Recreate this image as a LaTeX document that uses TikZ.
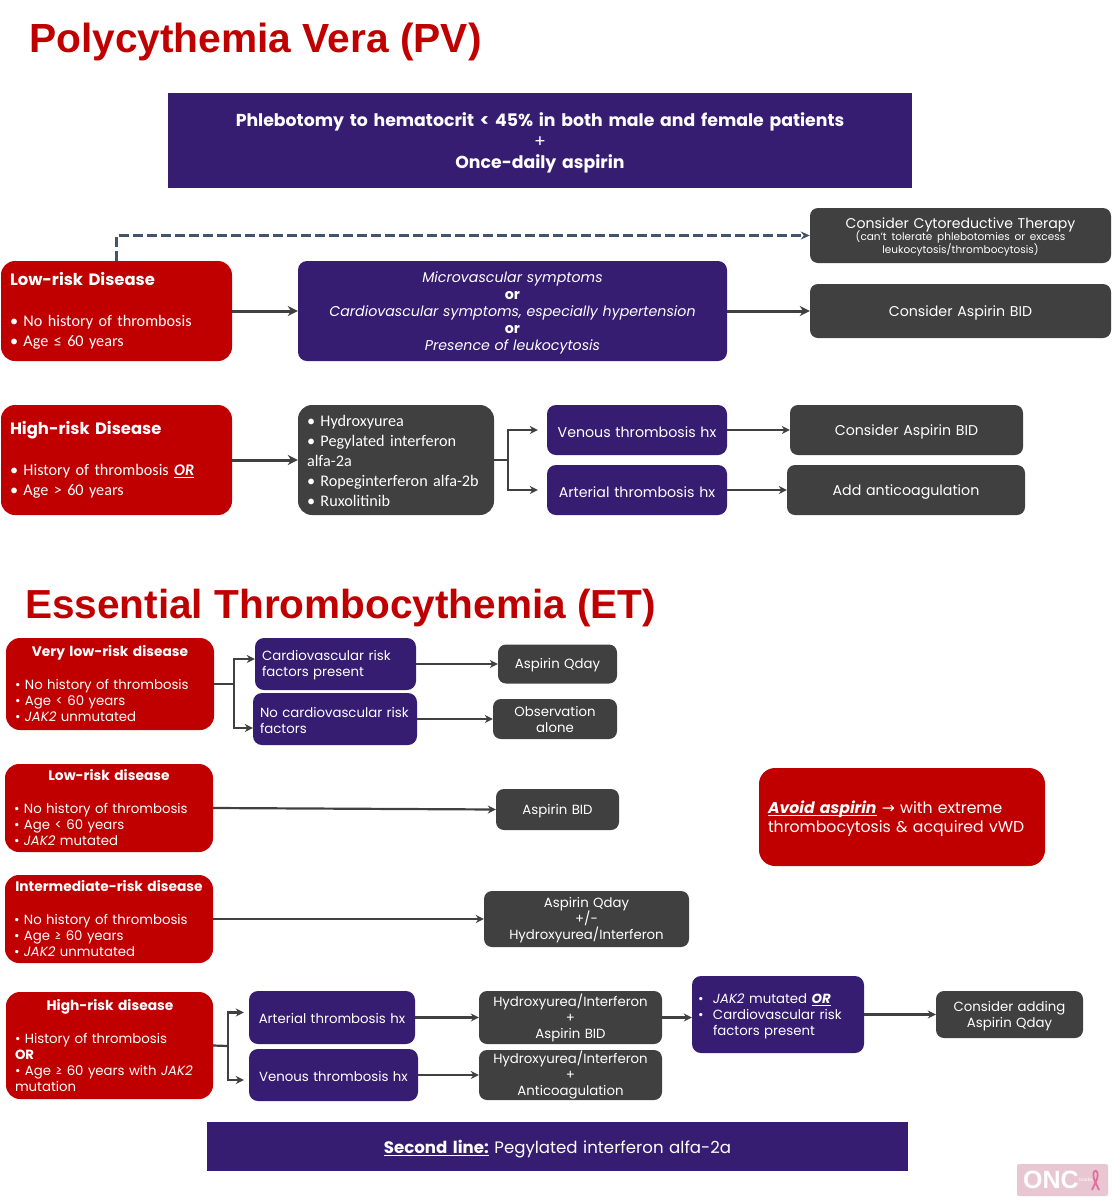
\documentclass[tikz,border=0pt]{standalone}
\usepackage{fontspec}
\usepackage{tikz}
\usepackage{xcolor}
\usetikzlibrary{arrows.meta}
\setmainfont{Poppins}
\newfontfamily\carlitofont{Carlito}
\newfontfamily\arialfont{Liberation Sans}
\newfontfamily\dejavufont{DejaVu Sans}
\definecolor{boxred}{HTML}{C00000}
\definecolor{boxpurple}{HTML}{361D72}
\definecolor{boxdark}{HTML}{404040}
\definecolor{dashblue}{HTML}{44546A}
\definecolor{logopink}{HTML}{E8C6D2}
\definecolor{ribbonpink}{HTML}{E0709A}
\newcommand{\pvhead}[1]{{\fontspec{Poppins}\fontsize{16.4}{20}\selectfont\bfseries #1}}
\newcommand{\ethead}[1]{\makebox[190pt]{\fontsize{13.8}{16}\selectfont\bfseries #1}}
\tikzset{
    flow-box/.style = {rectangle, text=white, inner xsep=9pt, inner ysep=0pt},
    box-size/.style 2 args = {text width=#1pt-18pt, minimum height=#2pt},
    text-drop/.style = {execute at begin node={\rule{0pt}{#1pt}}},
    red-box/.style = {flow-box, fill=boxred, rounded corners=14pt, align=left},
    purple-box/.style = {flow-box, fill=boxpurple, rounded corners=9pt, align=center},
    dark-box/.style = {flow-box, fill=boxdark, rounded corners=8pt, align=center},
    page-title/.style = {text=boxred, anchor=west, inner sep=0pt, font=\arialfont\fontsize{#1}{46}\selectfont\bfseries},
    pv-text/.style = {font=\fontsize{14.2}{17}\selectfont, text-drop=14.5},
    pv-list/.style = {font=\carlitofont\fontsize{16.2}{20}\selectfont, text-drop=13},
    et-text/.style = {font=\fontsize{13.3}{16}\selectfont},
    et-line/.style = {et-text, text-drop=13},
    flow-arrow/.style = {draw=boxdark, line width=3pt, -{Stealth[length=10pt,width=10pt]}},
    thin-arrow/.style = {draw=boxdark, line width=2.2pt, -{Stealth[length=8pt,width=8pt]}},
    flow-line/.style = {draw=boxdark, line width=2.6pt},
    dash-arrow/.style = {draw=dashblue, line width=2.6pt, dash pattern=on 10pt off 4pt, -{Stealth[length=9pt,width=8pt]}},
}

\begin{document}
\begin{tikzpicture}[x=1pt, y=-1pt]
\useasboundingbox (0,0) rectangle (1112,1200);

% polycythemia vera
\node[page-title=40.7] (pv-title) at (29,42) {Polycythemia Vera (PV)};
\node[purple-box, box-size={744}{95}, rounded corners=0pt, font=\fontsize{17.3}{21}\selectfont\bfseries, text-drop=19] (pv-header) at (540,140.5)
    {Phlebotomy to hematocrit < 45\% in both male and female patients\\{\mdseries +}\\Once-daily aspirin};

\node[red-box, box-size={231}{100}, pv-list] (low-pv) at (116.5,311)
    {\pvhead{Low-risk Disease}\\[21pt]• No history of thrombosis\\• Age ≤ 60 years};
\node[purple-box, box-size={429}{100}, pv-text] (symptoms-pv) at (512.5,311)
    {\textit{Microvascular symptoms}\\\textbf{or}\\\textit{Cardiovascular symptoms, especially hypertension}\\\textbf{or}\\\textit{Presence of leukocytosis}};
\node[dark-box, box-size={301}{55}, font=\fontsize{14.1}{15}\selectfont, text-drop=14] (cyto-pv) at (960.5,235.5)
    {Consider Cytoreductive Therapy\\[-2pt]{\fontsize{10.5}{13}\selectfont (can't tolerate phlebotomies or  excess\\[-2pt]leukocytosis/thrombocytosis)}};
\node[dark-box, box-size={301}{54}, pv-text] (aspirin-pv) at (960.5,311) {Consider Aspirin BID};

\node[red-box, box-size={231}{110}, pv-list] (high-pv) at (116.5,460)
    {\pvhead{High-risk Disease}\\[21pt]• History of thrombosis \underline{\textbf{\textit{OR}}}\\• Age > 60 years};
\node[dark-box, box-size={196}{110}, align=left, rounded corners=14pt, pv-list] (drugs-pv) at (396,460)
    {• Hydroxyurea\\• Pegylated interferon\\alfa-2a\\• Ropeginterferon alfa-2b\\• Ruxolitinib};
\node[purple-box, box-size={180}{50}, pv-text, text-drop=10.5] (venous-pv) at (637,430) {Venous thrombosis hx};
\node[purple-box, box-size={180}{50}, pv-text, text-drop=10.5] (arterial-pv) at (637,490) {Arterial thrombosis hx};
\node[dark-box, box-size={233}{50}, pv-text] (consider-pv) at (906.5,430) {Consider Aspirin BID};
\node[dark-box, box-size={238}{50}, pv-text] (anticoag-pv) at (906,490) {Add anticoagulation};
\coordinate (split-pv) at (508,460);

\draw[dash-arrow] (low-pv.north) |- (cyto-pv.west);
\draw[flow-arrow] (low-pv.east) -- (symptoms-pv.west);
\draw[flow-arrow] (symptoms-pv.east) -- (aspirin-pv.west);
\draw[flow-arrow] (high-pv.east) -- (drugs-pv.west);
\draw[flow-line] (drugs-pv.east) -- (split-pv);
\draw[thin-arrow, shorten >=9pt] (split-pv) |- (venous-pv.west);
\draw[thin-arrow, shorten >=9pt] (split-pv) |- (arterial-pv.west);
\draw[thin-arrow] (venous-pv.east) -- (consider-pv.west);
\draw[thin-arrow] (arterial-pv.east) -- (anticoag-pv.west);

% essential thrombocythemia
\node[page-title=40.55] (et-title) at (25,608) {Essential Thrombocythemia (ET)};

\node[red-box, box-size={208}{92}, et-text] (verylow-et) at (110,684)
    {\ethead{Very low-risk disease}\\[17pt]• No history of thrombosis\\• Age < 60 years\\• \textit{JAK2} unmutated};
\node[purple-box, box-size={161}{52}, align=left, et-line, inner xsep=7pt, text width=147pt] (present-et) at (335.5,664) {Cardiovascular risk\\factors present};
\node[purple-box, box-size={164}{52}, align=left, et-line, text-drop=10, inner xsep=7pt, text width=150pt] (absent-et) at (335,719) {No cardiovascular risk\\factors};
\node[dark-box, box-size={119}{39}, et-line] (qday-et) at (557.5,664) {Aspirin Qday};
\node[dark-box, box-size={124}{40}, et-text] (observe-et) at (555,719) {Observation\\alone};
\coordinate (split-verylow) at (234,684);

\node[red-box, box-size={208}{88}, et-text] (low-et) at (109,808)
    {\ethead{Low-risk disease}\\[17pt]• No history of thrombosis\\• Age < 60 years\\• \textit{JAK2} mutated};
\node[dark-box, box-size={123}{41}, et-line] (bid-et) at (557.5,809.5) {Aspirin BID};
\node[red-box, box-size={286}{98}, rounded corners=16pt, font=\fontsize{15.7}{19}\selectfont, text-drop=16] (avoid-et) at (902,817)
    {\underline{\smash{\textbf{\textit{Avoid aspirin}}}} {\dejavufont →} with extreme\\thrombocytosis \& acquired vWD};

\node[red-box, box-size={208}{88}, et-text] (inter-et) at (109,919)
    {\ethead{Intermediate-risk disease}\\[17pt]• No history of thrombosis\\• Age ≥ 60 years\\• \textit{JAK2} unmutated};
\node[dark-box, box-size={205}{56}, et-line] (hydroxy-et) at (586.5,919) {Aspirin Qday\\+/-\\Hydroxyurea/Interferon};

\node[red-box, box-size={207}{107}, et-text] (high-et) at (109.5,1045.5)
    {\ethead{High-risk disease}\\[17pt]• History of thrombosis\\\textbf{OR}\\• Age ≥ 60 years with \textit{JAK2}\\mutation};
\node[purple-box, box-size={166}{53}, et-line, text-drop=11] (arterial-et) at (332,1017.5) {Arterial thrombosis hx};
\node[purple-box, box-size={169}{52}, et-line, text-drop=11] (venous-et) at (333.5,1075) {Venous thrombosis hx};
\node[dark-box, box-size={183}{53}, et-text] (hydasp-et) at (570.5,1017.5) {Hydroxyurea/Interferon\\+\\Aspirin BID};
\node[dark-box, box-size={183}{50}, et-text] (hydanti-et) at (570.5,1075) {Hydroxyurea/Interferon\\+\\Anticoagulation};
\node[purple-box, box-size={172}{77}, align=left, et-line, inner xsep=6pt, text width=160pt] (jak-et) at (778,1014.5)
    {\makebox[15pt][l]{•}\textit{JAK2} mutated \underline{\textbf{\textit{OR}}}\\\makebox[15pt][l]{•}Cardiovascular risk\\\hspace*{15pt}factors present};
\node[dark-box, box-size={147}{47}, et-line] (adding-et) at (1009.5,1014.5) {Consider adding\\Aspirin Qday};
\coordinate (split-high) at (228,1046);

\node[purple-box, box-size={701}{49}, rounded corners=0pt, font=\fontsize{16.6}{20}\selectfont, text-drop=18.5] (second-et) at (557.5,1146.5)
    {\underline{\textbf{Second line:}} Pegylated interferon alfa-2a};

\draw[flow-line] (verylow-et.east) -- (split-verylow);
\draw[thin-arrow] (split-verylow) |- ([yshift=5pt]present-et.west);
\draw[thin-arrow] (split-verylow) |- ([yshift=-9pt]absent-et.west);
\draw[thin-arrow] (present-et.east) -- (qday-et.west);
\draw[thin-arrow] (absent-et.east) -- (observe-et.west);
\draw[thin-arrow] (low-et.east) -- (bid-et.west);
\draw[thin-arrow] (inter-et.east) -- (hydroxy-et.west);
\draw[flow-line, line width=2.2pt] (high-et.east) -- (split-high);
\draw[thin-arrow, shorten >=5pt] (split-high) |- ([yshift=5pt]arterial-et.west);
\draw[thin-arrow, shorten >=5pt] (split-high) |- ([yshift=-5pt]venous-et.west);
\draw[thin-arrow] (arterial-et.east) -- (hydasp-et.west);
\draw[thin-arrow] (venous-et.east) -- (hydanti-et.west);
\draw[thin-arrow] (hydasp-et.east) -- (jak-et.west |- hydasp-et.east);
\draw[thin-arrow] (jak-et.east) -- (adding-et.west);

% logo
\node[rectangle, fill=logopink, rounded corners=2pt, minimum width=91pt, minimum height=32pt, inner sep=0pt] (logo-box) at (1062.5,1180) {};
\node[text=white, anchor=west, inner sep=0pt, font=\arialfont\fontsize{25}{25}\selectfont\bfseries] (logo-onc) at (1023,1180) {ONC};
\node[text=white, anchor=west, inner sep=0pt, font=\carlitofont\fontsize{5}{5}\selectfont] (logo-small) at (1079,1180) {brother};
\draw[ribbonpink, line width=1.8pt] (1099,1190) -- (1094,1179) .. controls (1091,1168) and (1100,1168) .. (1097,1179) -- (1092,1190);
\end{tikzpicture}
\end{document}
